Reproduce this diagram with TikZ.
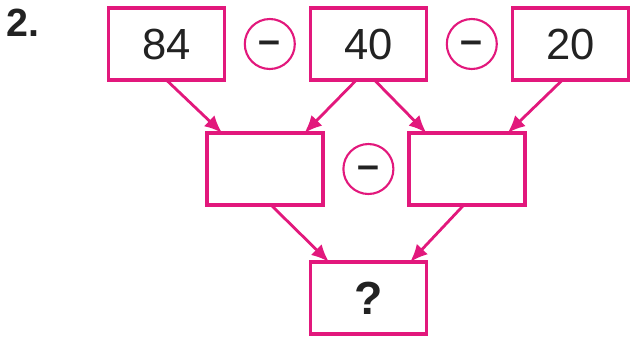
\documentclass[tikz,border=0pt]{standalone}
\usepackage{fontspec}
\setmainfont{Liberation Sans}
\usepackage{tikz}
\usetikzlibrary{positioning,arrows.meta,calc}
\definecolor{pinkline}{RGB}{226,24,124}
\definecolor{inkgray}{RGB}{34,34,34}

\begin{document}
\begin{tikzpicture}[
    >={Latex[length=4.4mm,width=3.8mm]},
    numbox/.style={draw=pinkline, line width=2.2pt, fill=white, outer sep=0pt,
        minimum width=29mm, minimum height=18mm, text=inkgray,
        font=\fontsize{31}{31}\selectfont},
    opcircle/.style={draw=pinkline, circle, line width=1.5pt, outer sep=0pt,
        minimum size=12.5mm, inner sep=0pt, text=inkgray, text height=13pt, text depth=0pt,
        font=\fontsize{28}{28}\selectfont\bfseries},
    link/.style={->, draw=pinkline, line width=2pt}
]
\useasboundingbox (0,0) rectangle (15.8,-8.45);

\node[font=\fontsize{28}{28}\selectfont\bfseries, text=inkgray] (num) at (0.58,-0.58) {2.};

% top row
\node[numbox] (a84) at (4.16,-1.1) {84};
\node[opcircle, right=5.1mm of a84] (minA) {--};
\node[numbox, right=3.9mm of minA] (a40) {40};
\node[opcircle, right=5.1mm of a40] (minB) {--};
\node[numbox, right=3.9mm of minB] (a20) {20};

% middle row
\node[opcircle, below=16mm of a40] (minC) {--};
\node[numbox, left=5.1mm of minC] (left) {};
\node[numbox, right=3.9mm of minC] (right) {};

% result
\node[numbox, below=17mm of minC, font=\fontsize{33}{33}\selectfont\bfseries] (result) {?};

\draw[link] (a84.south) -- ($(left.north west)!0.13!(left.north east)$);
\draw[link] ($(a40.south)+(-0.3,0)$) -- ($(left.north west)!0.84!(left.north east)$);
\draw[link] ($(a40.south)+(0.15,0)$) -- ($(right.north west)!0.15!(right.north east)$);
\draw[link] ($(a20.south)+(-0.2,0)$) -- ($(right.north west)!0.85!(right.north east)$);
\draw[link] ($(left.south)+(0.15,0)$) -- ($(result.north west)!0.16!(result.north east)$);
\draw[link] ($(right.south)+(-0.08,0)$) -- ($(result.north west)!0.86!(result.north east)$);
\end{tikzpicture}
\end{document}
